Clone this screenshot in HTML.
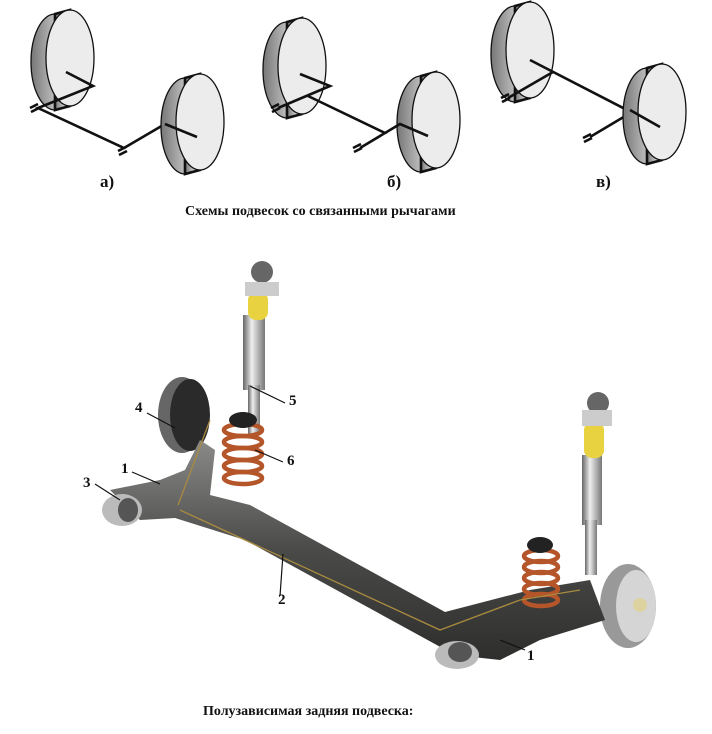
<!DOCTYPE html>
<html><head><meta charset="utf-8"><style>
html,body{margin:0;padding:0;background:#fff}
body{width:712px;height:734px;overflow:hidden;position:relative;font-family:"Liberation Serif",serif}
.t{position:absolute;font-weight:bold;color:#111}
</style></head><body>
<svg width="712" height="734" style="position:absolute;left:0;top:0">
<defs>
<linearGradient id="g" x1="0" x2="1" y1="0" y2="0"><stop offset="0" stop-color="#777"/><stop offset="0.6" stop-color="#ccc"/><stop offset="1" stop-color="#e5e5e5"/></linearGradient>
<linearGradient id="sh" x1="0" x2="1"><stop offset="0" stop-color="#666"/><stop offset="0.4" stop-color="#eee"/><stop offset="1" stop-color="#777"/></linearGradient>
<linearGradient id="bm" x1="0" x2="0" y1="0" y2="1"><stop offset="0" stop-color="#8a8a88"/><stop offset="0.5" stop-color="#4a4a48"/><stop offset="1" stop-color="#2e2e2c"/></linearGradient>
<g id="wh"><ellipse cx="-15" cy="4" rx="24" ry="48" fill="url(#g)" stroke="#111" stroke-width="1.3"/><polygon points="-15,-44 0,-48 0,48 -15,52" fill="url(#g)"/><ellipse cx="0" cy="0" rx="24" ry="48" fill="#ececec" stroke="#111" stroke-width="1.3"/></g>
</defs>
<g stroke="#111" stroke-width="2.6" fill="none">
<use href="#wh" x="70" y="58"/>
<path d="M66 72 L93 86 L38 108 L124 148 L165 124"/>
<path d="M30 108 l8 -4 M31 112 l8 -4 M118 151 l8 -4 M119 155 l8 -4"/>
<use href="#wh" x="200" y="122"/>
<path d="M165 124 L197 137"/>
<use href="#wh" x="302" y="66"/>
<path d="M300 74 L330 86 L278 108 M308 96 L385 133 L360 148"/>
<path d="M271 108 l8 -4 M272 112 l8 -4 M353 148 l8 -4 M354 152 l8 -4"/>
<use href="#wh" x="436" y="120"/>
<path d="M385 133 L400 124 L428 136"/>
<use href="#wh" x="530" y="50"/>
<path d="M530 60 L660 127 M553 72 L508 98 M632 112 L590 137"/>
<path d="M501 98 l8 -4 M502 102 l8 -4 M583 138 l8 -4 M584 142 l8 -4"/>
<use href="#wh" x="662" y="112"/>
<path d="M630 110 L660 127"/>
</g>
<!-- suspension -->
<rect x="243" y="315" width="22" height="75" fill="url(#sh)"/>
<rect x="248" y="385" width="12" height="50" fill="url(#sh)"/>
<rect x="248" y="292" width="20" height="28" rx="8" fill="#e8d240"/>
<circle cx="262" cy="272" r="11" fill="#666"/><rect x="245" y="282" width="34" height="14" fill="#ccc"/>
<rect x="582" y="455" width="20" height="70" fill="url(#sh)"/>
<rect x="585" y="520" width="12" height="55" fill="url(#sh)"/>
<rect x="584" y="422" width="20" height="36" rx="8" fill="#e8d240"/>
<circle cx="598" cy="403" r="11" fill="#666"/><rect x="582" y="410" width="30" height="16" fill="#ccc"/>
<ellipse cx="182" cy="415" rx="24" ry="38" fill="#666"/><ellipse cx="190" cy="415" rx="20" ry="36" fill="#2a2a2a"/>
<ellipse cx="628" cy="606" rx="28" ry="42" fill="#999"/><ellipse cx="636" cy="606" rx="20" ry="36" fill="#d5d5d5"/><circle cx="640" cy="605" r="7" fill="#ddd2a0"/>
<path d="M110 490 L160 480 L185 470 L200 440 L215 450 L210 495 L250 505 L445 612 L530 590 L590 580 L605 620 L540 640 L500 660 L455 655 L245 540 L175 518 L140 520 Z" fill="url(#bm)"/>
<ellipse cx="122" cy="510" rx="20" ry="16" fill="#bbb"/><ellipse cx="128" cy="510" rx="10" ry="12" fill="#555"/>
<ellipse cx="457" cy="655" rx="22" ry="14" fill="#bbb"/><ellipse cx="460" cy="652" rx="12" ry="10" fill="#555"/>
<g fill="none" stroke="#b5552a" stroke-width="4.5">
<ellipse cx="243" cy="430" rx="19" ry="6"/><ellipse cx="243" cy="442" rx="19" ry="6"/><ellipse cx="243" cy="454" rx="19" ry="6"/><ellipse cx="243" cy="466" rx="19" ry="6"/><ellipse cx="243" cy="478" rx="19" ry="6"/>
<ellipse cx="541" cy="556" rx="17" ry="6"/><ellipse cx="541" cy="567" rx="17" ry="6"/><ellipse cx="541" cy="578" rx="17" ry="6"/><ellipse cx="541" cy="589" rx="17" ry="6"/><ellipse cx="541" cy="600" rx="17" ry="6"/>
</g>
<ellipse cx="243" cy="420" rx="14" ry="8" fill="#222"/><ellipse cx="540" cy="545" rx="13" ry="8" fill="#222"/>
<path d="M178 505 L210 420 M180 510 L440 630 L520 600 L580 590" fill="none" stroke="#a88a40" stroke-width="1.3"/>
<g stroke="#111" stroke-width="1.2">
<line x1="250" y1="386" x2="285" y2="403"/><line x1="255" y1="450" x2="283" y2="462"/>
<line x1="147" y1="413" x2="175" y2="428"/><line x1="132" y1="472" x2="160" y2="484"/>
<line x1="95" y1="484" x2="120" y2="500"/><line x1="283" y1="554" x2="280" y2="596"/>
<line x1="500" y1="640" x2="525" y2="650"/>
</g>
</svg>
<div class="t" style="left:100px;top:172px;font-size:17px">а)</div>
<div class="t" style="left:387px;top:172px;font-size:17px">б)</div>
<div class="t" style="left:596px;top:172px;font-size:17px">в)</div>
<div class="t" style="left:185px;top:204px;font-size:14px">Схемы подвесок со связанными рычагами</div>
<div class="t" style="left:289px;top:393px;font-size:15px">5</div>
<div class="t" style="left:287px;top:453px;font-size:15px">6</div>
<div class="t" style="left:135px;top:400px;font-size:15px">4</div>
<div class="t" style="left:121px;top:461px;font-size:15px">1</div>
<div class="t" style="left:83px;top:475px;font-size:15px">3</div>
<div class="t" style="left:278px;top:592px;font-size:15px">2</div>
<div class="t" style="left:527px;top:648px;font-size:15px">1</div>
<div class="t" style="left:203px;top:704px;font-size:14px">Полузависимая задняя подвеска:</div>
</body></html>
